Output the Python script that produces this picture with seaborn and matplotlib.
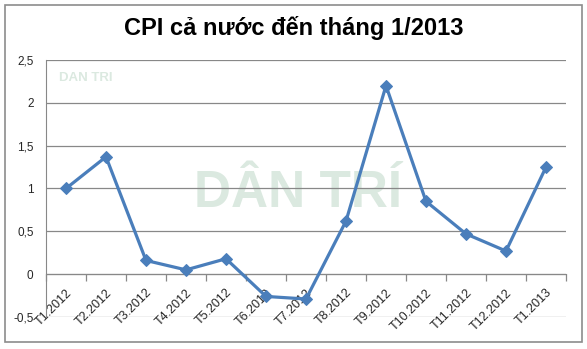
import matplotlib
matplotlib.use("Agg")
import matplotlib.pyplot as plt
import seaborn as sns
import pandas as pd
import numpy as np
from matplotlib.patches import Rectangle

months = ["T1.2012", "T2.2012", "T3.2012", "T4.2012", "T5.2012", "T6.2012",
          "T7.2012", "T8.2012", "T9.2012", "T10.2012", "T11.2012", "T12.2012", "T1.2013"]
cpi = [1.00, 1.37, 0.16, 0.05, 0.18, -0.26, -0.29, 0.62, 2.20, 0.85, 0.47, 0.27, 1.25]
yticks = [-0.5, 0, 0.5, 1, 1.5, 2, 2.5]
ytick_labels = ["-0,5", "0", "0,5", "1", "1,5", "2", "2,5"]
title = "CPI cả nước đến tháng 1/2013"

sns.set_style("white")
plt.rcParams['font.family'] = ['Liberation Sans', 'DejaVu Sans']

df = pd.DataFrame({"pos": np.arange(len(months)), "cpi": cpi})

fig = plt.figure(figsize=(5.87, 3.49), dpi=100)
ax = fig.add_axes([46/587, 1-317/349, 520/587, 257/349])

# watermark
ax.text(0.285, 0.48, "DÂN TRÍ", transform=ax.transAxes, fontsize=37, fontweight='bold',
        color='#dbe9e0', ha='left', va='center', zorder=0)
ax.text(0.025, 0.93, "DAN TRI", transform=ax.transAxes, fontsize=9.5, fontweight='bold',
        color='#dbe9e0', ha='left', va='center', zorder=0)

sns.lineplot(data=df, x="pos", y="cpi", ax=ax, color="#4a7ebb", linewidth=2.3,
             marker="D", markersize=6, markeredgecolor="#4a7ebb", zorder=3)

ax.spines['bottom'].set_position(('data', 0))
ax.spines['bottom'].set_color('#888888')
ax.spines['left'].set_color('#888888')
ax.spines['top'].set_visible(False)
ax.spines['right'].set_visible(False)

ax.set_ylim(-0.5, 2.5)
ax.set_xlim(-0.5, len(months) - 0.5)
ax.set_yticks(yticks)
ax.set_yticklabels(ytick_labels, fontsize=8.5)
ax.yaxis.grid(True, color='#888888', linewidth=0.9)
ax.set_axisbelow(True)
ax.tick_params(axis='y', length=0, pad=9)

ax.set_xticks(np.arange(len(months)))
ax.set_xticklabels(months, rotation=45, ha='right', va='top', rotation_mode='anchor', fontsize=9)
ax.set_xticks(np.arange(-0.5, len(months)), minor=True)
ax.tick_params(axis='x', which='major', length=0, pad=9)
ax.tick_params(axis='x', which='minor', bottom=True, length=5, color='#888888', width=0.9,
               direction='out')

ax.set_xlabel("")
ax.set_ylabel("")

fig.text(0.5, 1-28/349, title, ha='center', va='center', fontsize=17, fontweight='bold',
         color='black')

fig.patches.append(Rectangle((5/587, 1-342/349), 577/587, 337/349, transform=fig.transFigure,
                             fill=False, edgecolor='#8c8c8c', linewidth=1.2))

fig.savefig("out.png", dpi=100)
